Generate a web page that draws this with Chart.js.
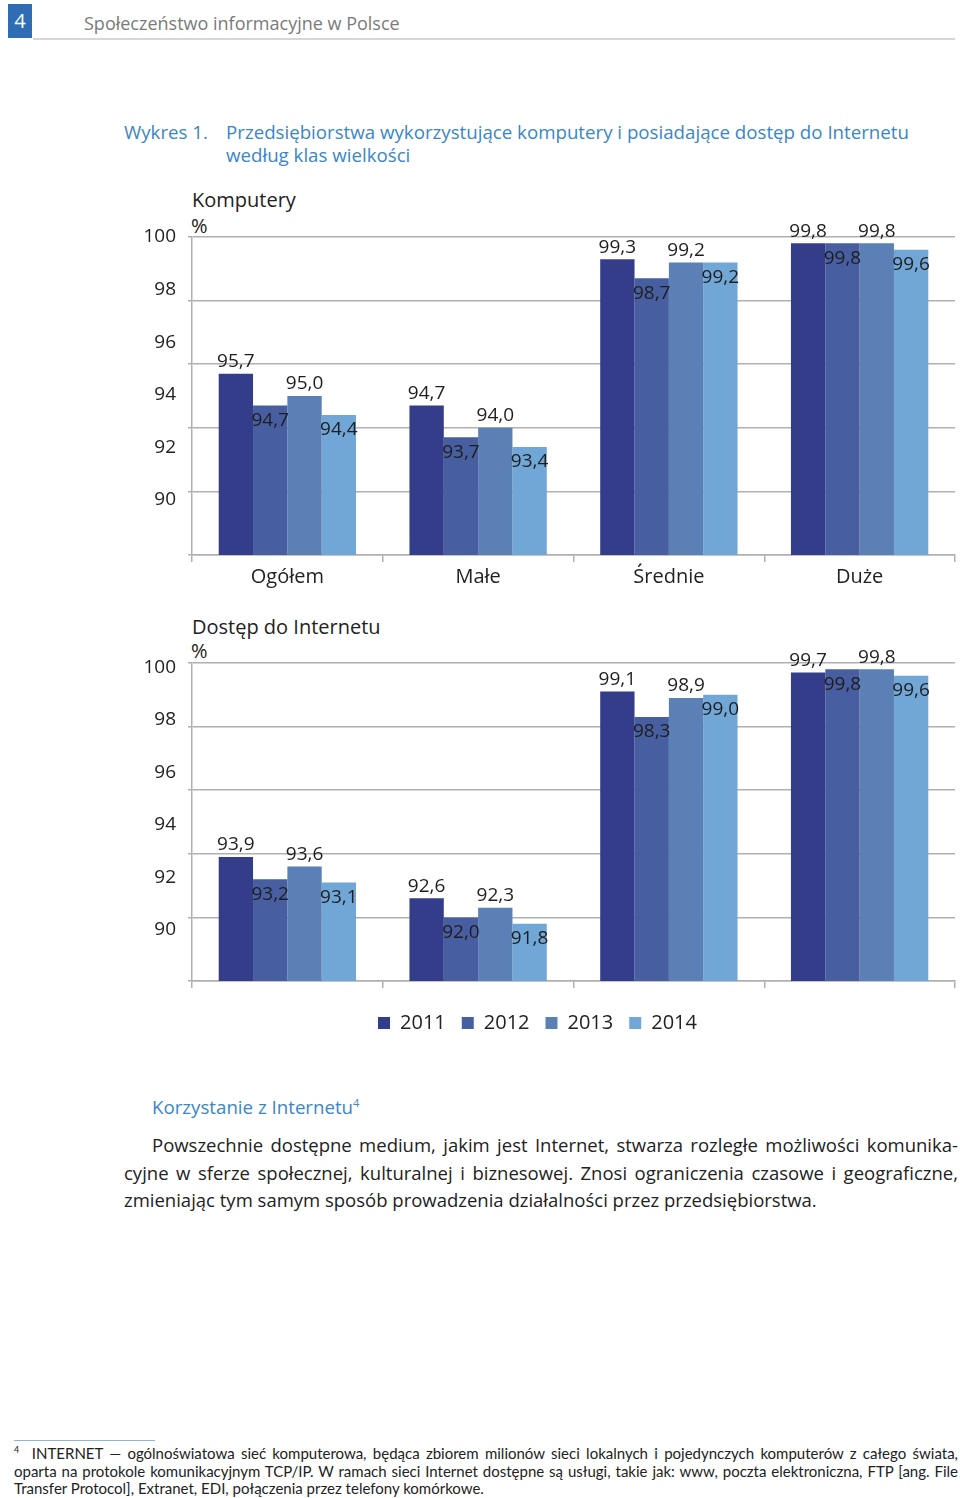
<!DOCTYPE html>
<html lang="pl">
<head>
<meta charset="utf-8">
<title>Wykres 1</title>
<script src="https://cdn.jsdelivr.net/npm/chart.js@4.4.0/dist/chart.umd.min.js"></script>
<style>
  body{margin:0;width:960px;height:1498px;background:#fff;position:relative;font-family:"Open Sans",sans-serif;overflow:hidden}
  .abs{position:absolute;white-space:nowrap}
  .pagebox{left:8px;top:4px;width:24px;height:34px;background:#2e6db4;color:#fff;font-size:20px;line-height:34px;text-align:center}
  .runhead{left:84px;top:11px;font-size:18px;color:#7a7a7a}
  .headline{left:33px;top:38px;width:922px;height:2px;background:#d6d6d6}
  .ttl{color:#3a86c8;font-size:18.7px}
  .sub{font-size:20px;color:#222}
  canvas{position:absolute}
  .para{position:absolute;left:124px;width:834px;font-size:18.5px;color:#222;line-height:27.5px}
  .para div{text-align:justify;text-align-last:justify;white-space:nowrap}
  .para div.last{text-align-last:left}
  .fn{position:absolute;left:14px;width:944px;font-family:Lato,sans-serif;font-size:15px;line-height:17.5px;color:#222}
  .fn div{text-align:justify;text-align-last:justify;white-space:nowrap}
  .fn div.last{text-align-last:left}
</style>
</head>
<body>
<div class="abs pagebox">4</div>
<div class="abs runhead">Społeczeństwo informacyjne w Polsce</div>
<div class="abs headline"></div>

<div class="abs ttl" style="left:124px;top:119px">Wykres 1.</div>
<div class="abs ttl" style="left:226px;top:119px">Przedsiębiorstwa wykorzystujące komputery i posiadające dostęp do Internetu</div>
<div class="abs ttl" style="left:226px;top:142px">według klas wielkości</div>

<div class="abs sub" style="left:192px;top:186px">Komputery</div>
<div class="abs sub" style="left:191px;top:212px">%</div>
<canvas id="chartKomp" width="840" height="400" style="left:120px;top:200px"></canvas>

<div class="abs sub" style="left:192px;top:613px">Dostęp do Internetu</div>
<div class="abs sub" style="left:191px;top:637px">%</div>
<canvas id="chartNet" width="840" height="413" style="left:120px;top:630px"></canvas>

<div class="abs ttl" style="left:152px;top:1094px">Korzystanie z Internetu<sup style="font-size:11px">4</sup></div>
<div class="para" style="top:1131px">
  <div style="padding-left:28px">Powszechnie dostępne medium, jakim jest Internet, stwarza rozległe możliwości komunika-</div>
  <div>cyjne w sferze społecznej, kulturalnej i biznesowej. Znosi ograniczenia czasowe i geograficzne,</div>
  <div class="last">zmieniając tym samym sposób prowadzenia działalności przez przedsiębiorstwa.</div>
</div>

<div class="abs" style="left:14px;top:1440px;width:141px;height:1px;background:#8fb3d9"></div>
<div class="fn" style="top:1441px">
  <div><sup style="font-size:9px">4</sup>&nbsp; INTERNET — ogólnoświatowa sieć komputerowa, będąca zbiorem milionów sieci lokalnych i pojedynczych komputerów z całego świata,</div>
  <div>oparta na protokole komunikacyjnym TCP/IP. W ramach sieci Internet dostępne są usługi, takie jak: www, poczta elektroniczna, FTP [ang. File</div>
  <div class="last">Transfer Protocol], Extranet, EDI, połączenia przez telefony komórkowe.</div>
</div>

<script>
const categories = ['Ogółem', 'Małe', 'Średnie', 'Duże'];
const years = ['2011', '2012', '2013', '2014'];
const yTicks = [100, 98, 96, 94, 92, 90];

// Komputery
const komp2011 = [95.7, 94.7, 99.3, 99.8];
const komp2012 = [94.7, 93.7, 98.7, 99.8];
const komp2013 = [95.0, 94.0, 99.2, 99.8];
const komp2014 = [94.4, 93.4, 99.2, 99.6];

// Dostęp do Internetu
const net2011 = [93.9, 92.6, 99.1, 99.7];
const net2012 = [93.2, 92.0, 98.3, 99.8];
const net2013 = [93.6, 92.3, 98.9, 99.8];
const net2014 = [93.1, 91.8, 99.0, 99.6];

const colors = ['#343d8a', '#475ea0', '#5b80b6', '#71a7d7'];
const gridColor = '#b0b0b0';
const font = 'Open Sans';

const valueLabels = {
  id: 'valueLabels',
  afterDatasetsDraw(chart) {
    const ctx = chart.ctx;
    ctx.save();
    ctx.font = '19px "' + font + '"';
    ctx.fillStyle = '#1e1e1e';
    ctx.textAlign = 'center';
    ctx.textBaseline = 'middle';
    chart.data.datasets.forEach((ds, i) => {
      chart.getDatasetMeta(i).data.forEach((bar, j) => {
        const txt = ds.data[j].toFixed(1).replace('.', ',');
        const y = i % 2 === 0 ? bar.y - 12 : bar.y + 15;
        ctx.fillText(txt, bar.x, y);
      });
    });
    ctx.restore();
  }
};

function makeChart(id, series, opts) {
  new Chart(document.getElementById(id), {
    type: 'bar',
    data: {
      labels: categories,
      datasets: series.map((d, i) => ({
        label: years[i],
        data: d,
        backgroundColor: colors[i],
        borderWidth: 0,
        categoryPercentage: 0.72,
        barPercentage: 1.0
      }))
    },
    options: {
      responsive: false,
      animation: false,
      devicePixelRatio: 1,
      layout: { padding: { top: opts.padTop, right: 5, left: 0, bottom: 0 } },
      plugins: {
        tooltip: { enabled: false },
        legend: {
          display: opts.legend,
          position: 'bottom',
          labels: {
            boxWidth: 12,
            boxHeight: 12,
            padding: 16,
            color: '#222',
            font: { family: font, size: 20 }
          }
        }
      },
      scales: {
        x: {
          grid: { display: true, offset: true, drawOnChartArea: false, tickLength: 7, color: gridColor, lineWidth: 1.5 },
          border: { color: gridColor, width: 1.5 },
          ticks: { display: opts.xLabels, color: '#222', padding: 3, font: { family: font, size: 20 } },
          afterFit: s => { s.height = opts.xHeight; }
        },
        y: {
          position: 'left',
          weight: 0,
          min: 90,
          max: 100,
          ticks: { stepSize: 2, display: false },
          grid: { color: gridColor, lineWidth: 1.5, tickLength: 4 },
          border: { color: gridColor, width: 1.5 },
          afterFit: s => { s.width = 4; }
        },
        // in the original the tick labels sit on a tighter spacing than the grid
        yl: {
          position: 'left',
          weight: 1,
          min: opts.labelMin,
          max: opts.labelMax,
          grid: { display: false, drawTicks: false },
          border: { display: false },
          ticks: {
            stepSize: 2,
            includeBounds: false,
            padding: 12,
            color: '#222',
            font: { family: font, size: 19 },
            callback: v => yTicks.includes(v) ? String(v) : null
          },
          afterFit: s => { s.width = 68; }
        }
      }
    },
    plugins: [valueLabels]
  });
}

makeChart('chartKomp', [komp2011, komp2012, komp2013, komp2014],
  { padTop: 37, xHeight: 45, xLabels: true, legend: false, labelMin: 87.9, labelMax: 100 });
makeChart('chartNet', [net2011, net2012, net2013, net2014],
  { padTop: 33, xHeight: 16, xLabels: false, legend: true, labelMin: 88.05, labelMax: 100.17 });
</script>
</body>
</html>
